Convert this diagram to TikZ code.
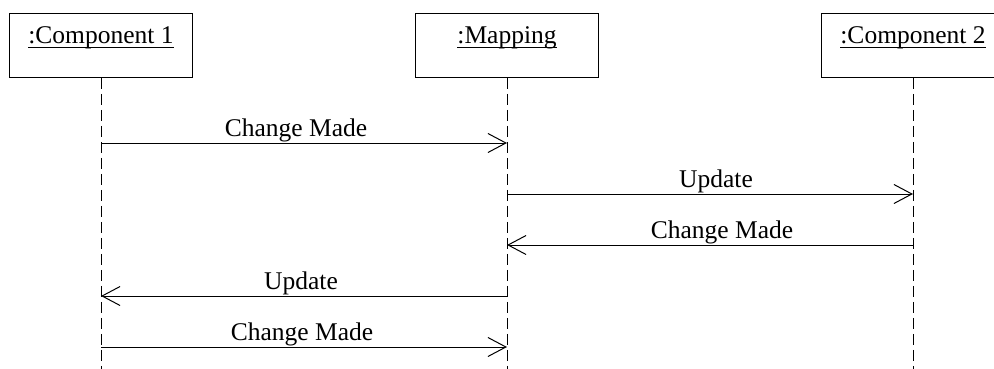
\documentclass[tikz,border=0pt]{standalone}
\usepackage{fontspec}
\setmainfont{Liberation Serif}
\usetikzlibrary{arrows.meta}
\newcommand\myul[1]{\setbox0\hbox{#1}\rlap{\rule[-4.9pt]{\wd0}{1.3pt}}\box0}
\begin{document}
\begin{tikzpicture}[x=1pt,y=-1pt,
  obj/.style={draw,line width=1.2pt,inner xsep=0pt,inner ysep=0pt,
    minimum width=182.5pt,text height=30pt,text depth=34pt,anchor=north,
    font=\fontsize{25.5}{30}\selectfont},
  life/.style={line width=1pt,dash pattern=on 11pt off 5pt},
  msg/.style={line width=1pt,-{Straight Barb[length=18pt,width=19pt,line width=1pt]}},
  lbl/.style={anchor=base,inner sep=0pt,font=\fontsize{25.5}{30}\selectfont}]
\useasboundingbox (0,0) rectangle (994,369);
\clip (0,0) rectangle (994,369);
\node[obj] (c1) at (101,12.7) {\myul{:Component 1}};
\node[obj] (mp) at (507,12.7) {\myul{:Mapping}};
\node[obj] (c2) at (913,12.7) {\myul{:Component 2}};
\coordinate (e1) at (c1.south |- 0,369);
\coordinate (e2) at (mp.south |- 0,369);
\coordinate (e3) at (c2.south |- 0,369);
\draw[life] (c1.south) -- (e1);
\draw[life] (mp.south) -- (e2);
\draw[life] (c2.south) -- (e3);
% message anchor points
\coordinate (a1) at (c1.south |- 0,143);
\coordinate (b1) at (mp.south |- 0,143);
\coordinate (a2) at (mp.south |- 0,194);
\coordinate (b2) at (c2.south |- 0,194);
\coordinate (a3) at (c2.south |- 0,245);
\coordinate (b3) at (mp.south |- 0,245);
\coordinate (a4) at (mp.south |- 0,296);
\coordinate (b4) at (c1.south |- 0,296);
\coordinate (a5) at (c1.south |- 0,347);
\coordinate (b5) at (mp.south |- 0,347);
\draw[msg] (a1) -- node[lbl,yshift=6.5pt,xshift=-8pt] (t1) {Change Made} (b1);
\draw[msg] (a2) -- node[lbl,yshift=6.5pt,xshift=6pt] (t2) {Update} (b2);
\draw[msg] (a3) -- node[lbl,yshift=6.5pt,xshift=12pt] (t3) {Change Made} (b3);
\draw[msg] (a4) -- node[lbl,yshift=6.5pt,xshift=-3pt] (t4) {Update} (b4);
\draw[msg] (a5) -- node[lbl,yshift=6.5pt,xshift=-2pt] (t5) {Change Made} (b5);
\end{tikzpicture}
\end{document}
